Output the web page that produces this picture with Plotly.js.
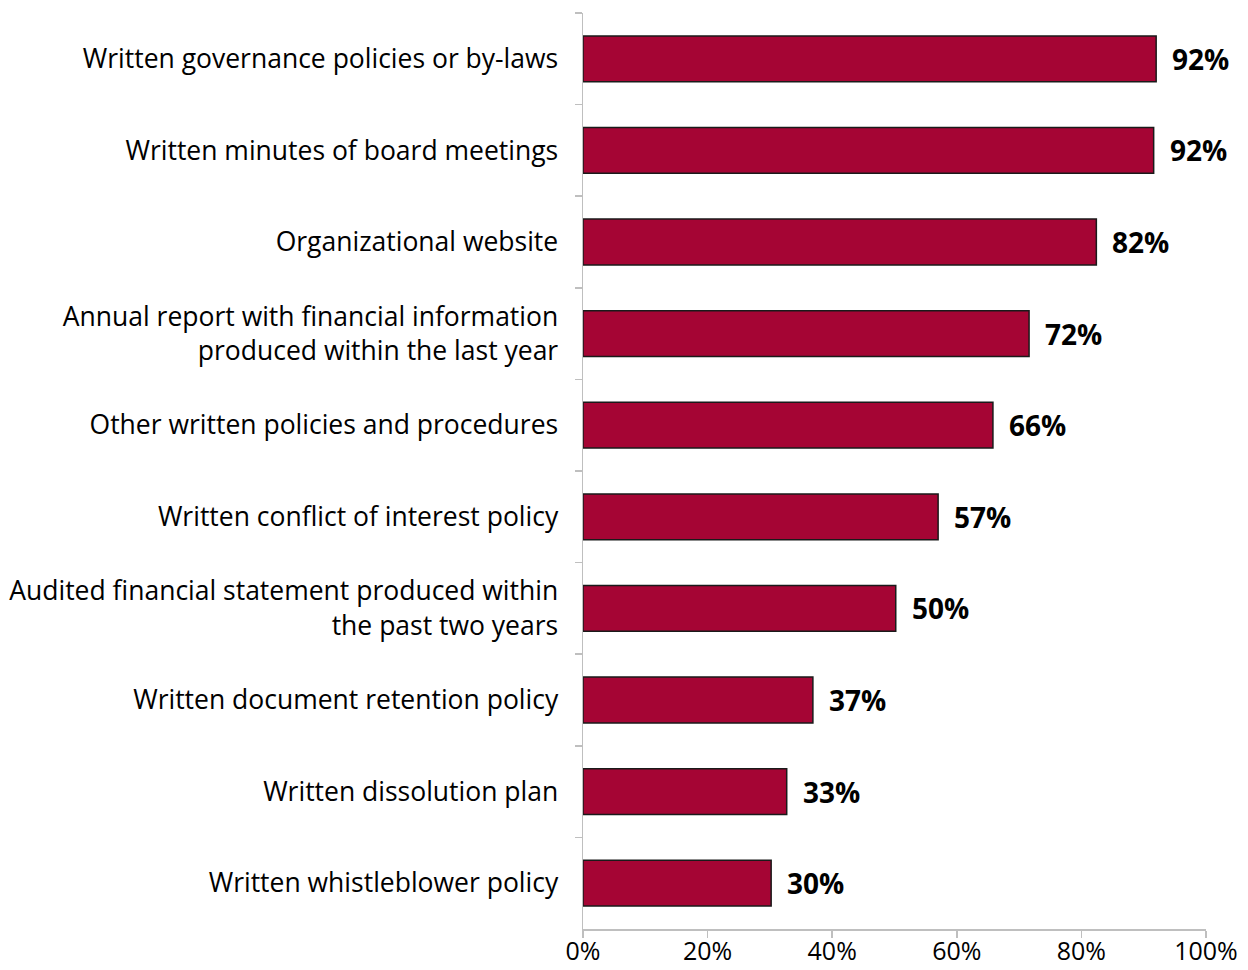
<!DOCTYPE html>
<html>
<head>
<meta charset="utf-8">
<script src="https://cdn.plot.ly/plotly-3.0.1.min.js"></script>
<style>html,body{margin:0;padding:0;background:#fff;}#chart{width:1248px;height:970px;}</style>
</head>
<body>
<div id="chart"></div>
<script>
const categories = [
  "Written governance policies or by-laws",
  "Written minutes of board meetings",
  "Organizational website",
  "Annual report with financial information<br>produced within the last year",
  "Other written policies and procedures",
  "Written conflict of interest policy",
  "Audited financial statement produced within<br>the past two years",
  "Written document retention policy",
  "Written dissolution plan",
  "Written whistleblower policy"
];
const values = [0.920, 0.916, 0.824, 0.716, 0.658, 0.570, 0.502, 0.369, 0.327, 0.302];
const valueLabels = ["92%", "92%", "82%", "72%", "66%", "57%", "50%", "37%", "33%", "30%"];
const xTickVals = [0, 0.2, 0.4, 0.6, 0.8, 1.0];
const xTickText = ["0%", "20%", "40%", "60%", "80%", "100%"];

const FONT = "Open Sans, Liberation Sans, sans-serif";

const trace = {
  type: "bar",
  orientation: "h",
  x: values,
  y: categories,
  width: 0.5,
  marker: {color: "#A50534", line: {color: "#1a1a1a", width: 1.5}},
  hoverinfo: "skip"
};

const annotations = values.map((v, i) => ({
  x: v, y: categories[i], xref: "x", yref: "y",
  text: "<b>" + valueLabels[i] + "</b>",
  showarrow: false, xanchor: "left", xshift: 14,
  font: {family: FONT, size: 28, color: "#000"}
}));

const layout = {
  width: 1248, height: 970,
  margin: {l: 583, r: 42, t: 13, b: 41, pad: 0},
  paper_bgcolor: "#fff", plot_bgcolor: "#fff",
  showlegend: false,
  font: {family: FONT, size: 26, color: "#000"},
  xaxis: {
    range: [0, 1], tickvals: xTickVals, ticktext: xTickText,
    showgrid: false, zeroline: false,
    showline: true, linecolor: "#bfbfbf", linewidth: 1.5,
    ticks: "outside", ticklen: 7, tickcolor: "#bfbfbf", tickwidth: 1.5,
    ticklabelstandoff: -8,
    tickfont: {family: FONT, size: 25, color: "#000"},
    fixedrange: true
  },
  yaxis: {
    type: "category", autorange: "reversed",
    showgrid: false, zeroline: false,
    showline: true, linecolor: "#bfbfbf", linewidth: 1.5,
    ticks: "outside", ticklen: 7, tickcolor: "#bfbfbf", tickwidth: 1.5,
    tickson: "boundaries",
    ticklabelstandoff: 18,
    tickfont: {family: FONT, size: 26.5, color: "#000"},
    fixedrange: true
  },
  annotations: annotations
};

Plotly.newPlot("chart", [trace], layout, {displayModeBar: false, staticPlot: true});
</script>
</body>
</html>
